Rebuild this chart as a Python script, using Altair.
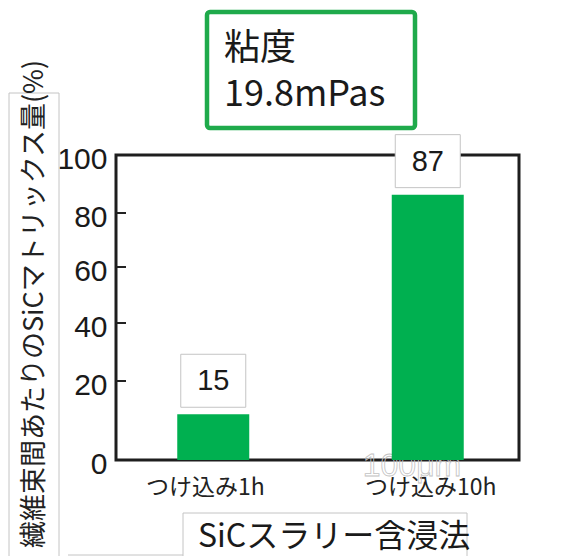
import altair as alt
import pandas as pd

# --- chart values -----------------------------------------------------------
categories = ["つけ込み1h", "つけ込み10h"]
values = [15, 87]
y_ticks = [0, 20, 40, 60, 80, 100]

title_lines = ["粘度", "19.8mPas"]
y_title = "繊維束間あたりのSiCマトリックス量(%)"
x_title = "SiCスラリー含浸法"
scale_note = "100μm"

# --- styling ----------------------------------------------------------------
GREEN = "#00B050"
FRAME_GREEN = "#1FAA4B"
INK = "#1a1a1a"
BOX_GRAY = "#c4c4c4"
JP = "Noto Sans CJK JP"
NUM = "Liberation Sans"

W, H = 403, 305
# pixel rows of the hand-placed axis ticks (top of plot = 0)
tick_rows = [305, 226, 168, 112, 58, 0]

bars_df = pd.DataFrame({"method": categories, "value": values})
ticks_df = pd.DataFrame({"tick": y_ticks})
one = alt.Data(values=[{"k": 0}])

x_enc = alt.X(
    "method:N",
    sort=categories,
    scale=alt.Scale(range=[-10, 419], paddingInner=0, paddingOuter=0),
    axis=alt.Axis(
        title=None, labelAngle=0, ticks=False, domain=False, grid=False,
        labelFont=JP, labelFontSize=23, labelColor="#222222", labelPadding=16,
        labelOffset={"condition": {"test": "datum.index == 0", "value": -8}, "value": 3},
    ),
)
y_scale = alt.Scale(domain=[0, 100], nice=False, zero=True)


def frame_box(x1, x2, y1, y2, **kw):
    return alt.Chart(one).mark_rect(**kw).encode(
        x=alt.value(x1), x2=alt.value(x2), y=alt.value(y1), y2=alt.value(y2)
    )


def label(text, x, y, **kw):
    return alt.Chart(one).mark_text(**kw).encode(
        x=alt.value(x), y=alt.value(y), text=alt.value(text)
    )


# title box
title_box = frame_box(91, 299, -143, -27, fill="white", stroke=FRAME_GREEN,
                      strokeWidth=4.5, cornerRadius=3)
title_1 = label(title_lines[0], 108, -95, font=JP, fontSize=36, color=INK,
                align="left", baseline="alphabetic")
title_2 = label(title_lines[1], 108, -49, font=JP, fontSize=36, color=INK,
                align="left", baseline="alphabetic")

# y-axis title box
ytitle_box = frame_box(-107, -57, -62, 420, fill="white", stroke=BOX_GRAY, strokeWidth=1)
ytitle_txt = label(y_title, -81, 149, font=JP, fontSize=27, color="#222222",
                   angle=270, align="center", baseline="middle")

# x-axis title box
xtitle_box = frame_box(67, 351, 358, 420, fill="white", stroke=BOX_GRAY, strokeWidth=1)
xtitle_txt = label(x_title, 82, 392, font=JP, fontSize=32, color=INK,
                   align="left", baseline="alphabetic")
corner_line = alt.Chart(one).mark_rule(color=BOX_GRAY, strokeWidth=1).encode(
    x=alt.value(-48), x2=alt.value(67), y=alt.value(400)
)

# faint scale-bar note
note = label(scale_note, 296, 321, font=NUM, fontSize=32, fill="white",
             fillOpacity=0, stroke="#c2c2c2", strokeWidth=0.8,
             align="center", baseline="alphabetic")

# bars
bars = alt.Chart(bars_df).mark_bar(color=GREEN, width=72).encode(
    x=x_enc,
    y=alt.Y("value:Q", scale=y_scale, axis=None),
)

# value boxes and labels above each bar
value_boxes = alt.Chart(bars_df).mark_bar(
    fill="white", stroke=BOX_GRAY, strokeWidth=1, width=65, yOffset=-60, y2Offset=-7
).encode(
    x=x_enc,
    y=alt.Y("value:Q", scale=y_scale, axis=None),
    y2=alt.Y2("value:Q"),
)
value_text = alt.Chart(bars_df).mark_text(
    font=NUM, fontSize=29, color=INK, baseline="middle", dy=-33
).encode(
    x=x_enc,
    y=alt.Y("value:Q", scale=y_scale, axis=None),
    text=alt.Text("value:Q"),
)

# inward ticks and left axis labels
tick_scale = alt.Scale(domain=y_ticks, range=tick_rows, nice=False, zero=False)
ticks = alt.Chart(ticks_df).transform_filter(
    "datum.tick > 0 && datum.tick < 100"
).mark_rule(color="#222222", strokeWidth=2).encode(
    y=alt.Y(
        "tick:Q",
        scale=tick_scale,
        axis=alt.Axis(
            orient="left", values=y_ticks, title=None, ticks=False, domain=False,
            grid=False, labelFont=NUM, labelFontSize=30, labelColor=INK,
            labelPadding=9, labelOffset=4,
        ),
    ),
    x=alt.value(0),
    x2=alt.value(10),
)

chart = (
    alt.layer(
        title_box, title_1, title_2,
        ytitle_box, ytitle_txt,
        xtitle_box, corner_line, xtitle_txt,
        note, bars, value_boxes, value_text, ticks,
    )
    .resolve_scale(y="independent")
    .properties(
        width=W,
        height=H,
        padding={"left": 116, "top": 155, "right": 56, "bottom": 96},
        autosize=alt.AutoSizeParams(type="none"),
        background="white",
    )
    .configure_view(stroke="#1e1e1e", strokeWidth=3)
)

chart.save("out.html", embed_options={"renderer": "svg", "actions": False})
